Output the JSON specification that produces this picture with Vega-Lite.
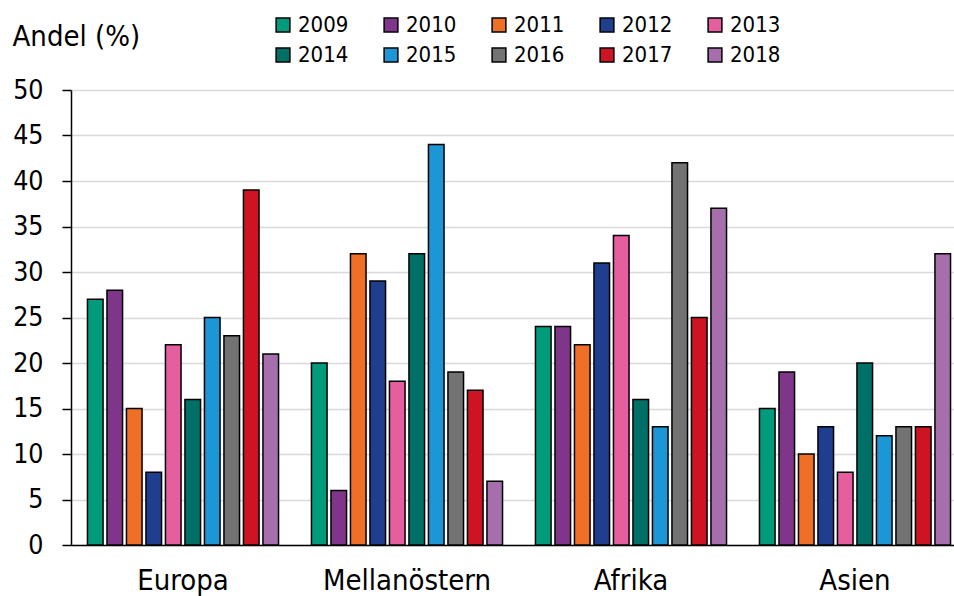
{
  "$schema": "https://vega.github.io/schema/vega-lite/v6.json",
  "width": 896,
  "height": 455,
  "autosize": {"type": "none"},
  "padding": {"left": 71, "top": 90, "right": 0, "bottom": 51},
  "background": "white",
  "config": {
    "font": "DejaVu Sans Condensed, DejaVu Sans",
    "view": {"stroke": null}
  },
  "data": {
    "values": [
      {"region": "Europa", "year": "2009", "value": 27},
      {"region": "Europa", "year": "2010", "value": 28},
      {"region": "Europa", "year": "2011", "value": 15},
      {"region": "Europa", "year": "2012", "value": 8},
      {"region": "Europa", "year": "2013", "value": 22},
      {"region": "Europa", "year": "2014", "value": 16},
      {"region": "Europa", "year": "2015", "value": 25},
      {"region": "Europa", "year": "2016", "value": 23},
      {"region": "Europa", "year": "2017", "value": 39},
      {"region": "Europa", "year": "2018", "value": 21},
      {"region": "Mellanöstern", "year": "2009", "value": 20},
      {"region": "Mellanöstern", "year": "2010", "value": 6},
      {"region": "Mellanöstern", "year": "2011", "value": 32},
      {"region": "Mellanöstern", "year": "2012", "value": 29},
      {"region": "Mellanöstern", "year": "2013", "value": 18},
      {"region": "Mellanöstern", "year": "2014", "value": 32},
      {"region": "Mellanöstern", "year": "2015", "value": 44},
      {"region": "Mellanöstern", "year": "2016", "value": 19},
      {"region": "Mellanöstern", "year": "2017", "value": 17},
      {"region": "Mellanöstern", "year": "2018", "value": 7},
      {"region": "Afrika", "year": "2009", "value": 24},
      {"region": "Afrika", "year": "2010", "value": 24},
      {"region": "Afrika", "year": "2011", "value": 22},
      {"region": "Afrika", "year": "2012", "value": 31},
      {"region": "Afrika", "year": "2013", "value": 34},
      {"region": "Afrika", "year": "2014", "value": 16},
      {"region": "Afrika", "year": "2015", "value": 13},
      {"region": "Afrika", "year": "2016", "value": 42},
      {"region": "Afrika", "year": "2017", "value": 25},
      {"region": "Afrika", "year": "2018", "value": 37},
      {"region": "Asien", "year": "2009", "value": 15},
      {"region": "Asien", "year": "2010", "value": 19},
      {"region": "Asien", "year": "2011", "value": 10},
      {"region": "Asien", "year": "2012", "value": 13},
      {"region": "Asien", "year": "2013", "value": 8},
      {"region": "Asien", "year": "2014", "value": 20},
      {"region": "Asien", "year": "2015", "value": 12},
      {"region": "Asien", "year": "2016", "value": 13},
      {"region": "Asien", "year": "2017", "value": 13},
      {"region": "Asien", "year": "2018", "value": 32}
    ]
  },
  "mark": {"type": "bar", "stroke": "black", "strokeWidth": 1.5},
  "encoding": {
    "x": {
      "field": "region",
      "type": "nominal",
      "sort": ["Europa", "Mellanöstern", "Afrika", "Asien"],
      "scale": {"paddingInner": 0.147, "paddingOuter": 0.0735},
      "axis": {
        "title": null,
        "labelAngle": 0,
        "labelFontSize": 29,
        "labelColor": "black",
        "labelPadding": 21,
        "ticks": false,
        "domainColor": "black",
        "domainWidth": 1.5,
        "grid": false
      }
    },
    "xOffset": {
      "field": "year",
      "type": "nominal",
      "scale": {"paddingInner": 0.2, "paddingOuter": 0}
    },
    "y": {
      "field": "value",
      "type": "quantitative",
      "scale": {"domain": [0, 50]},
      "axis": {
        "values": [0, 5, 10, 15, 20, 25, 30, 35, 40, 45, 50],
        "title": "Andel (%)",
        "titleAngle": 0,
        "titleAlign": "left",
        "titleBaseline": "middle",
        "titleX": -59,
        "titleY": -54,
        "titleFontSize": 29,
        "titleFontWeight": "normal",
        "titleColor": "black",
        "labelFontSize": 26.5,
        "labelColor": "black",
        "labelPadding": 19,
        "tickSize": 9,
        "tickColor": "black",
        "tickWidth": 1.5,
        "domainColor": "black",
        "domainWidth": 1.5,
        "gridColor": "#d9d9d9",
        "gridWidth": 1.5
      }
    },
    "color": {
      "field": "year",
      "type": "nominal",
      "scale": {
        "domain": ["2009", "2010", "2011", "2012", "2013", "2014", "2015", "2016", "2017", "2018"],
        "range": ["#009B7D", "#7F368A", "#EE7027", "#1F3E8E", "#E55F9E", "#006F66", "#1C96D4", "#737373", "#CD1423", "#A66FAC"]
      },
      "legend": {
        "title": null,
        "orient": "none",
        "legendX": 201,
        "legendY": -76,
        "direction": "horizontal",
        "columns": 5,
        "columnPadding": 31,
        "rowPadding": 8,
        "symbolType": "square",
        "symbolSize": 190,
        "symbolStrokeColor": "black",
        "symbolStrokeWidth": 1.5,
        "labelFontSize": 22,
        "labelColor": "black",
        "labelOffset": 4
      }
    }
  }
}
